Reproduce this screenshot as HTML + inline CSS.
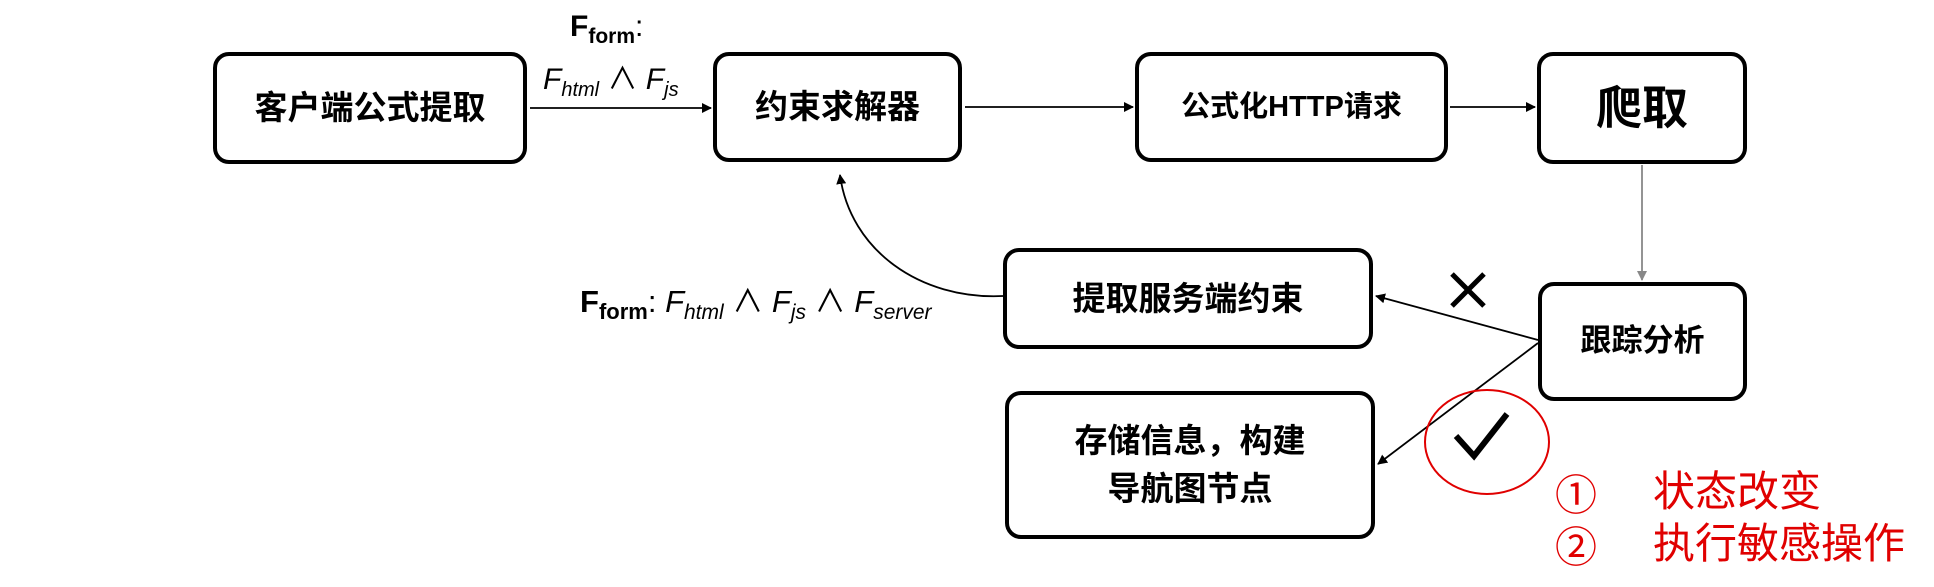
<!DOCTYPE html>
<html><head><meta charset="utf-8"><style>
body{margin:0;width:1934px;height:587px;background:#fff;position:relative;overflow:hidden;font-family:"Liberation Sans","Noto Sans CJK SC",sans-serif;}
.b{position:absolute;border:4px solid #000;border-radius:16px;box-sizing:border-box;display:flex;align-items:center;justify-content:center;text-align:center;font-weight:bold;font-size:32px;line-height:1.45;color:#000;}
.t{position:absolute;white-space:nowrap;color:#000;}
.r{position:absolute;color:#e00000;font-size:42px;white-space:nowrap;}
</style></head><body>
<svg width="1934" height="587" style="position:absolute;left:0;top:0">
<defs><marker id="a" markerWidth="10" markerHeight="10" refX="9" refY="5" orient="auto" markerUnits="userSpaceOnUse"><path d="M0,0 L10,5 L0,10 z" fill="#000"/></marker>
<marker id="g" markerWidth="10" markerHeight="10" refX="9" refY="5" orient="auto" markerUnits="userSpaceOnUse"><path d="M0,0 L10,5 L0,10 z" fill="#888"/></marker></defs>
<line x1="530" y1="108" x2="711" y2="108" stroke="#000" stroke-width="1.8" marker-end="url(#a)"/>
<line x1="965" y1="107" x2="1133" y2="107" stroke="#000" stroke-width="1.8" marker-end="url(#a)"/>
<line x1="1450" y1="107" x2="1535" y2="107" stroke="#000" stroke-width="1.8" marker-end="url(#a)"/>
<line x1="1642" y1="165" x2="1642" y2="280" stroke="#888" stroke-width="1.8" marker-end="url(#g)"/>
<line x1="1538" y1="340" x2="1376" y2="296" stroke="#000" stroke-width="1.8" marker-end="url(#a)"/>
<line x1="1538" y1="343" x2="1378" y2="464" stroke="#000" stroke-width="1.8" marker-end="url(#a)"/>
<path d="M1003,296 C920,300 850,250 840,175" fill="none" stroke="#000" stroke-width="1.8" marker-end="url(#a)"/>
<path d="M1452,274 L1484,306 M1484,274 L1452,306" stroke="#000" stroke-width="5"/>
<path d="M1456,436 L1474,456 L1507,414" fill="none" stroke="#000" stroke-width="6"/>
<ellipse cx="1487" cy="442" rx="62" ry="52" fill="none" stroke="#e00000" stroke-width="2"/>
</svg>
<div class="b" style="left:213px;top:52px;width:314px;height:112px;font-size:33px">客户端公式提取</div>
<div class="b" style="left:713px;top:52px;width:249px;height:110px;font-size:33px">约束求解器</div>
<div class="b" style="left:1135px;top:52px;width:313px;height:110px;font-size:29px">公式化HTTP请求</div>
<div class="b" style="left:1537px;top:52px;width:210px;height:112px;font-size:46px">爬取</div>
<div class="b" style="left:1003px;top:248px;width:370px;height:101px;font-size:33px">提取服务端约束</div>
<div class="b" style="left:1538px;top:282px;width:209px;height:119px;font-size:31px">跟踪分析</div>
<div class="b" style="left:1005px;top:391px;width:370px;height:148px;font-size:33px">存储信息，构建<br>导航图节点</div>
<div class="t" style="left:570px;top:10px;font-size:30px"><b>F<sub style="font-size:21px">form</sub></b>:</div>
<div class="t" style="left:543px;top:54px;font-size:30px"><i>F<sub style="font-size:20px">html</sub></i> ∧ <i>F<sub style="font-size:20px">js</sub></i></div>
<div class="t" style="left:580px;top:276px;font-size:31px"><b>F<sub style="font-size:22px">form</sub></b>: <i>F<sub style="font-size:21px">html</sub></i> ∧ <i>F<sub style="font-size:21px">js</sub></i> ∧ <i>F<sub style="font-size:21px">server</sub></i></div>
<div class="r" style="left:1555px;top:462px">①</div>
<div class="r" style="left:1653px;top:458px">状态改变</div>
<div class="r" style="left:1555px;top:514px">②</div>
<div class="r" style="left:1653px;top:510px">执行敏感操作</div>
</body></html>
